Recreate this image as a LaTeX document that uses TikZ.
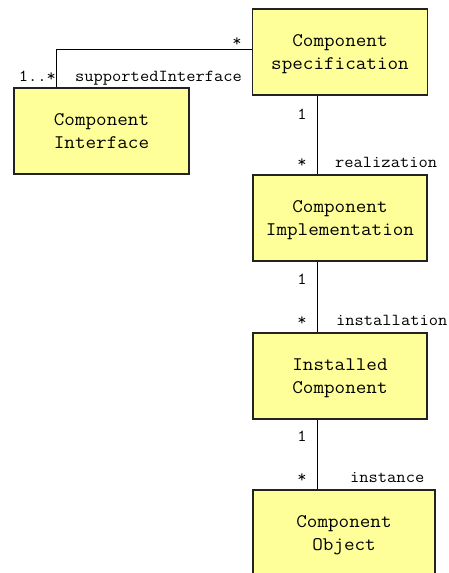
\documentclass[tikz,border=0pt]{standalone}
\usepackage{fontspec}
\setmonofont[FakeStretch=1.07]{Latin Modern Mono}
\definecolor{boxfill}{HTML}{FFFF99}
\definecolor{boxline}{HTML}{222222}
\newcommand{\vstrut}{\rule[-5.5pt]{0pt}{23pt}}
\begin{document}
\begin{tikzpicture}[x=1pt,y=-1pt,
  cls/.style={draw=boxline, line width=1.3pt, fill=boxfill, align=center,
    font=\fontsize{19.2}{23}\selectfont\ttfamily, minimum height=86pt, inner sep=0pt},
  lbl/.style={inner sep=0pt, font=\fontsize{16.8}{18}\selectfont\ttfamily},
  conn/.style={draw=black, line width=1pt}]
\useasboundingbox (0,0) rectangle (448,573);
\clip (0,0) rectangle (448,573);
\node[cls, minimum width=175pt] (spec) at (340,52) {\vstrut Component\\\vstrut specification};
\node[cls, minimum width=175pt] (iface) at (101.5,131) {\vstrut Component\\\vstrut Interface};
\node[cls, minimum width=174pt] (impl) at (340,218) {\vstrut Component\\\vstrut Implementation};
\node[cls, minimum width=174pt] (inst) at (340,376) {\vstrut Installed\\\vstrut Component};
\node[cls, minimum width=182pt] (obj) at (344,533) {\vstrut Component\\\vstrut Object};
\draw[conn] ([yshift=3pt]spec.west) -| ([xshift=-45.5pt]iface.north);
\draw[conn] ([xshift=-23pt]spec.south) -- ([xshift=-23pt]impl.north);
\draw[conn] ([xshift=-23pt]impl.south) -- ([xshift=-23pt]inst.north);
\draw[conn] ([xshift=-23pt]inst.south) -- ([xshift=-27pt]obj.north);
\node[lbl, anchor=base] (m1) at (237,46) {*};
\node[lbl, anchor=base east] (m2) at (56,81) {1..*};
\node[lbl, anchor=base west] (r1) at (75,81) {supportedInterface};
\node[lbl, anchor=base] (m3) at (302,119) {1};
\node[lbl, anchor=base] (m4) at (302,167) {*};
\node[lbl, anchor=base west] (r2) at (335,167) {realization};
\node[lbl, anchor=base] (m5) at (302,284) {1};
\node[lbl, anchor=base] (m6) at (302,325) {*};
\node[lbl, anchor=base west] (r3) at (336,325) {installation};
\node[lbl, anchor=base] (m7) at (302,441) {1};
\node[lbl, anchor=base] (m8) at (302,482) {*};
\node[lbl, anchor=base west] (r4) at (350,482) {instance};
\end{tikzpicture}
\end{document}
